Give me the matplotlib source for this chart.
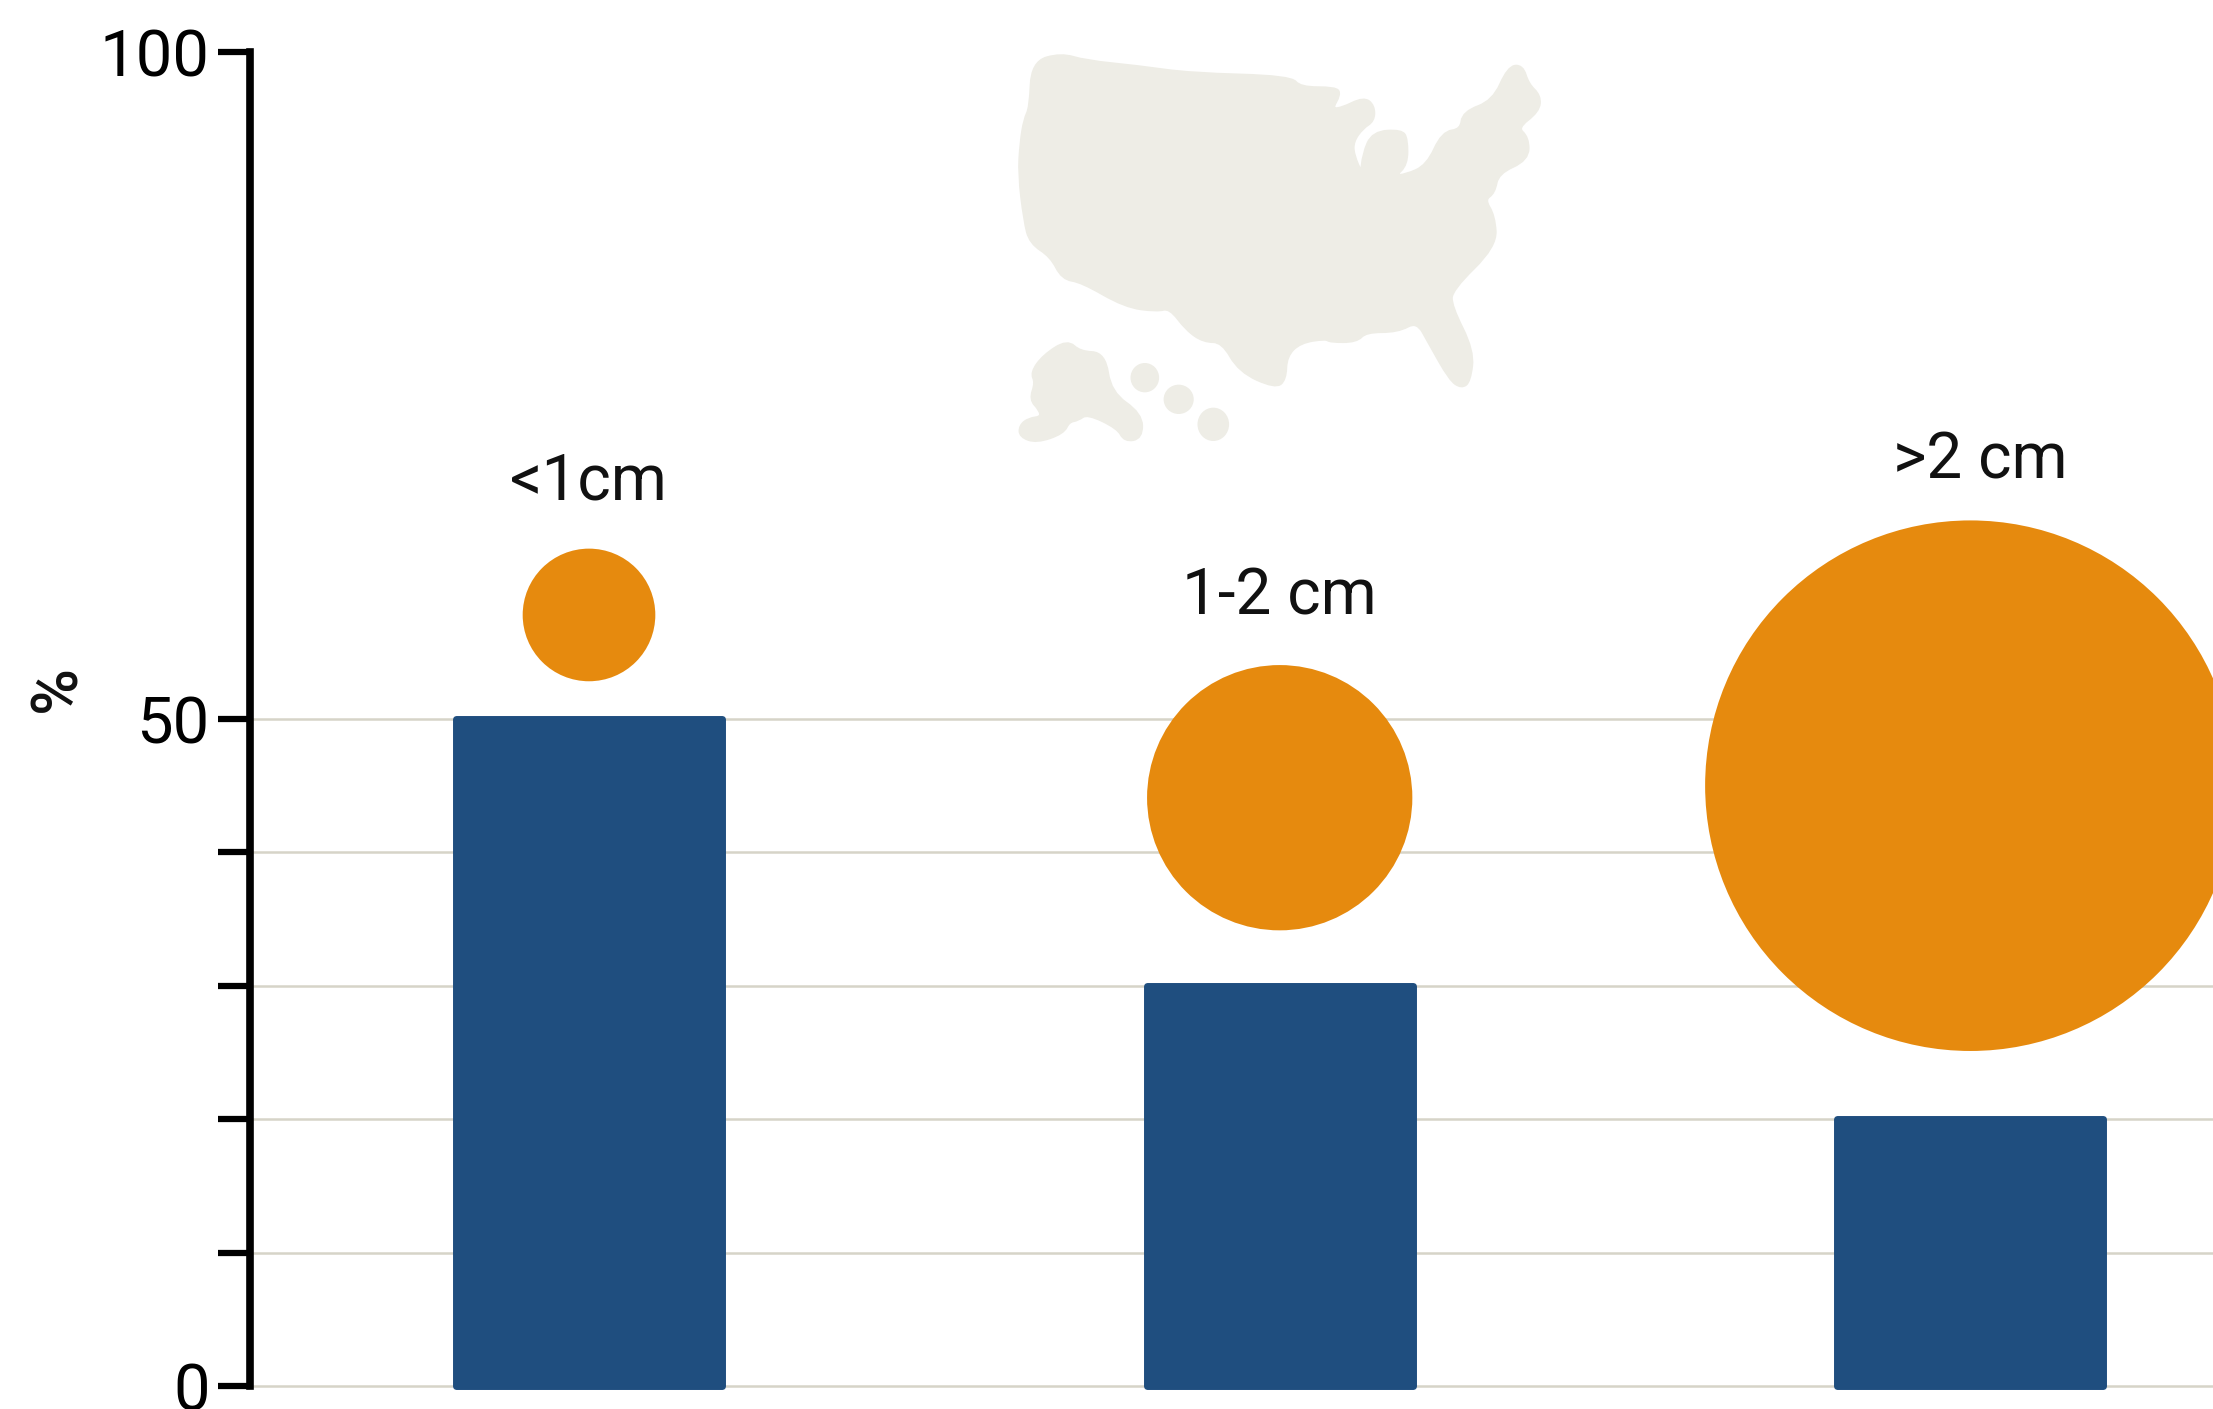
import matplotlib
matplotlib.use('Agg')
import matplotlib.pyplot as plt
from matplotlib.patches import Ellipse, PathPatch
from matplotlib.path import Path

plt.rcParams['font.family'] = ['Roboto', 'DejaVu Sans']

W, H = 2213, 1409

categories = ['<1cm', '1-2 cm', '>2 cm']
bar_values = [50, 30, 20]
circle_sizes = [1, 2, 4]
circle_levels = [57.8, 44.1, 45.0]
label_levels = [67.8, 59.2, 69.4]
label_shift = [0, 0, 0.014]

major_ticks = [0, 10, 20, 30, 40, 50, 100]
tick_labels = ['0', '', '', '', '', '50', '100']
grid_levels = [0, 10, 20, 30, 40, 50]

# outlines of the background map
mainland = [(140, 95), (215, 70), (280, 92), (420, 108), (560, 130), (825, 138), (850, 172),
            (945, 172), (955, 190), (932, 235), (960, 235), (1020, 202), (1045, 225), (1045, 268),
            (1015, 290), (990, 330), (990, 370), (1015, 435), (1020, 370), (1045, 305), (1120, 300),
            (1133, 325), (1133, 400), (1100, 435), (1130, 435), (1190, 405), (1230, 305), (1280, 298),
            (1285, 245), (1365, 212), (1405, 110), (1440, 105), (1455, 160), (1487, 195), (1483, 240),
            (1425, 290), (1455, 320), (1455, 385), (1375, 425), (1365, 485), (1338, 505), (1365, 555),
            (1370, 645), (1252, 775), (1250, 825), (1310, 960), (1300, 1050), (1280, 1068), (1250, 1045),
            (1195, 935), (1162, 868), (1110, 900), (1025, 900), (1000, 930), (930, 930), (920, 920),
            (850, 932), (812, 975), (810, 1045), (785, 1068), (690, 1020), (645, 930), (595, 930),
            (550, 895), (505, 828), (470, 838), (385, 825), (270, 750), (220, 742), (190, 675),
            (135, 635), (120, 570), (105, 430), (110, 335), (120, 265), (135, 230)]
alaska = [(232, 930), (265, 965), (330, 968), (345, 1085), (428, 1150), (428, 1220), (385, 1228),
          (368, 1190), (285, 1145), (260, 1165), (235, 1170), (220, 1205), (150, 1232), (108, 1215),
          (108, 1185), (130, 1165), (165, 1160), (160, 1135), (135, 1105), (150, 1055), (138, 1025),
          (170, 975)]
islands = [(438, 1040, 76, 88), (528, 1105, 80, 88), (620, 1180, 84, 100)]

NAVY = '#1f4e7f'
ORANGE = '#e68a0e'
GRID = '#d6d4c8'
LAND = '#eeede6'
INK = '#111111'


def rounded_outline(points):
    # every traced point becomes a control point, so the corners come out soft
    mid = [((a[0] + b[0]) / 2, (a[1] + b[1]) / 2) for a, b in zip(points, points[1:] + points[:1])]
    verts = [mid[-1]]
    codes = [Path.MOVETO]
    for p, m in zip(points, mid):
        verts += [p, m]
        codes += [Path.CURVE3, Path.CURVE3]
    return Path(verts, codes)


fig = plt.figure(figsize=(W / 100, H / 100), dpi=100, facecolor='white')

# map sits in its own axes, in traced coordinates (the crop was 1568 x 1290)
map_ax = fig.add_axes([980 / W, 1 - (31 + 430) / H, 590 / W, 430 / H])
map_ax.set_xlim(0, 1568)
map_ax.set_ylim(1290, 0)
map_ax.axis('off')
for outline in (mainland, alaska):
    map_ax.add_patch(PathPatch(rounded_outline(outline), facecolor=LAND, edgecolor=LAND,
                               linewidth=3, joinstyle='round'))
for cx, cy, ew, eh in islands:
    map_ax.add_patch(Ellipse((cx, cy), ew, eh, facecolor=LAND, edgecolor='none'))

# main axes: y 0 at pixel 1386, y 100 at pixel 52, left spine at 250
left, right, top, bottom = 250, W, 52, 1386
ax = fig.add_axes([left / W, 1 - bottom / H, (right - left) / W, (bottom - top) / H])
ax.patch.set_alpha(0)
ax.set_xlim((left - 589) / 690.7, (right - 589) / 690.7)
ax.set_ylim(0, 100)

ax.hlines(grid_levels, ax.get_xlim()[0], ax.get_xlim()[1], color=GRID, linewidth=1.8, zorder=1,
          clip_on=False)

positions = list(range(len(categories)))
bars = ax.bar(positions, bar_values, width=0.385, color=NAVY, edgecolor=NAVY, linewidth=5,
              zorder=2, clip_on=False)
for bar in bars:
    bar.set_joinstyle('round')

ax.scatter(positions, circle_levels, s=[(95.5 * d) ** 2 for d in circle_sizes],
           color=ORANGE, linewidths=0, zorder=3)

for x, level, name, shift in zip(positions, label_levels, categories, label_shift):
    ax.text(x + shift, level, name, ha='center', va='center', fontsize=46, color=INK, zorder=4)

for side in ('top', 'right', 'bottom'):
    ax.spines[side].set_visible(False)
ax.spines['left'].set_linewidth(5.5)
ax.spines['left'].set_capstyle('projecting')
ax.set_xticks([])
ax.set_yticks(major_ticks)
ax.set_yticklabels(tick_labels)
ax.tick_params(axis='y', length=23, width=4.5, pad=6, labelsize=47, color='black')

fig.text(41 * 1.4114 / W, 1 - 488 * 1.4114 / H, '%', rotation=90, ha='center', va='center',
         fontsize=46, fontweight='medium', color=INK)

fig.savefig('out.png', dpi=100)
plt.close(fig)
